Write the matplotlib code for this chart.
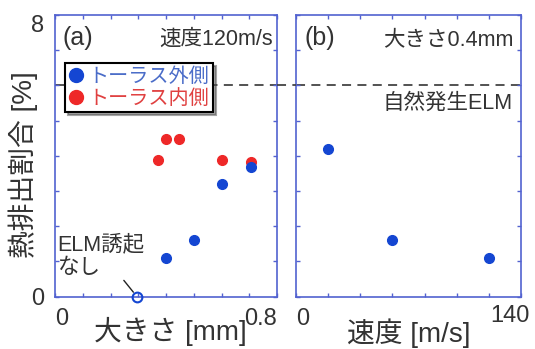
import matplotlib
matplotlib.use("Agg")
import matplotlib.pyplot as plt
import matplotlib.transforms as mtransforms
from matplotlib.lines import Line2D
import numpy as np

plt.rcParams['font.family'] = ['Liberation Sans', 'Noto Sans CJK JP', 'DejaVu Sans']

# ---- data ----
outer_size = [0.40, 0.50, 0.60, 0.705]
outer_val = [1.09, 1.61, 3.19, 3.67]
none_size = [0.295]
none_val = [0.0]
inner_size = [0.37, 0.40, 0.448, 0.60, 0.705]
inner_val = [3.88, 4.47, 4.47, 3.88, 3.83]

speed = [20, 60, 120]
speed_val = [4.19, 1.61, 1.10]

natural_elm = 6.0

ylabel = "熱排出割合 [%]"
xlabel_a = "大きさ [mm]"
xlabel_b = "速度 [m/s]"
legend_labels = ["トーラス外側", "トーラス内側"]
xtick_a = ['0'] + [''] * 7 + ['0.8']
xtick_b = ['0'] + [''] * 7
xtick_b_end = '140'
ytick = ['0'] + [''] * 7 + ['8']

FRAME = '#5262d0'
BLUE = '#1446d2'
RED = '#ee2828'
TXT = '#333333'

fig = plt.figure(figsize=(5.35, 3.49), dpi=100)
ax1 = fig.add_axes([55/535, 52.5/349, 222/535, 281.5/349])
ax2 = fig.add_axes([296/535, 52.5/349, 225/535, 281.5/349])

for ax in (ax1, ax2):
    for s in ax.spines.values():
        s.set_color(FRAME)
        s.set_linewidth(1.2)
    ax.tick_params(direction='in', which='both', top=True, right=True,
                   color=FRAME, length=3, width=1.0, labelsize=17,
                   labelcolor=TXT)
    ax.set_ylim(0, 8)
    ax.set_yticks(np.arange(0, 9, 1))
    ax.axhline(natural_elm, color='#444444', lw=1.3, ls=(0, (5, 3.5)), zorder=1)

ax1.set_xlim(0, 0.8)
ax1.set_xticks(np.arange(0, 0.81, 0.1))
ax1.set_xticklabels(xtick_a)
ax1.set_yticklabels(ytick)
ax2.set_xlim(0, 140)
ax2.set_xticks(np.arange(0, 141, 20))
ax2.set_xticklabels(xtick_b)
ax2.set_yticklabels([])

xl = ax1.get_xticklabels()
xl[0].set_ha('left'); xl[-1].set_ha('right')
ax2.get_xticklabels()[0].set_ha('left')
ax1.get_yticklabels()[-1].set_va('top')
ax1.tick_params(axis='x', pad=8)
ax2.tick_params(axis='x', pad=8)
ax1.tick_params(axis='y', pad=8)
ax2.annotate(xtick_b_end, xy=(1, 0), xycoords='axes fraction',
             xytext=(-8, -6), textcoords='offset points',
             ha='center', va='top', fontsize=17, color=TXT)

# gap part of the dashed line
tr = mtransforms.blended_transform_factory(fig.transFigure, ax1.transData)
fig.add_artist(Line2D([277/535, 296/535], [natural_elm, natural_elm], transform=tr,
                      color='#444444', lw=1.3, ls=(0, (5, 3.5))))

# data
ax1.plot(inner_size, inner_val, 'o', color=RED, ms=7, mec=RED, zorder=3)
ax1.plot(outer_size, outer_val, 'o', color=BLUE, ms=7, mec=BLUE, zorder=4)
ax1.plot(none_size, none_val, 'o', mfc='none', mec=BLUE, mew=1.5, ms=7,
         zorder=4, clip_on=False)
ax2.plot(speed, speed_val, 'o', color=BLUE, ms=7, mec=BLUE, zorder=4)

# legend
h = [Line2D([], [], marker='o', ls='none', color=BLUE, ms=10),
     Line2D([], [], marker='o', ls='none', color=RED, ms=10)]
leg = ax1.legend(h, legend_labels, loc='upper left', bbox_to_anchor=(0.045, 0.83),
                 fontsize=14.5, frameon=True, fancybox=False, shadow=True,
                 handlelength=0.7, handletextpad=0.25, borderpad=0.2,
                 labelspacing=0.15, borderaxespad=0)
leg.get_frame().set_edgecolor('black')
leg.get_frame().set_linewidth(1.5)
leg.get_texts()[0].set_color('#4a6cc8')
leg.get_texts()[1].set_color('#e04040')
leg.set_zorder(5)

# texts
ax1.text(0.035, 0.96, "(a)", transform=ax1.transAxes, fontsize=18,
         color=TXT, ha='left', va='top')
ax1.text(0.98, 0.95, "速度120m/s", transform=ax1.transAxes, fontsize=15.5,
         color=TXT, ha='right', va='top')
ax2.text(0.04, 0.96, "(b)", transform=ax2.transAxes, fontsize=18,
         color=TXT, ha='left', va='top')
ax2.text(0.965, 0.95, "大きさ0.4mm", transform=ax2.transAxes, fontsize=15.5,
         color=TXT, ha='right', va='top')
ax2.text(0.965, 0.725, "自然発生ELM", transform=ax2.transAxes, fontsize=15.5,
         color=TXT, ha='right', va='top')

ax1.annotate("ELM誘起\nなし", xy=(none_size[0], none_val[0]),
             xytext=(0.012, 0.222), textcoords='axes fraction',
             fontsize=15.5, color=TXT, ha='left', va='top', linespacing=1.1,
             arrowprops=dict(arrowstyle='-', color='#222222', lw=1.0,
                             shrinkA=0, shrinkB=4, relpos=(0.58, 0.38)))

# axis labels
ax1.set_ylabel(ylabel, fontsize=20, color=TXT, va='center')
ax1.yaxis.set_label_coords(-0.145, 0.47)
ax1.set_xlabel(xlabel_a, fontsize=20, color=TXT, va='center')
ax1.xaxis.set_label_coords(0.52, -0.125)
ax2.set_xlabel(xlabel_b, fontsize=20, color=TXT, va='center')
ax2.xaxis.set_label_coords(0.5, -0.13)

fig.savefig("out.png", dpi=100)
